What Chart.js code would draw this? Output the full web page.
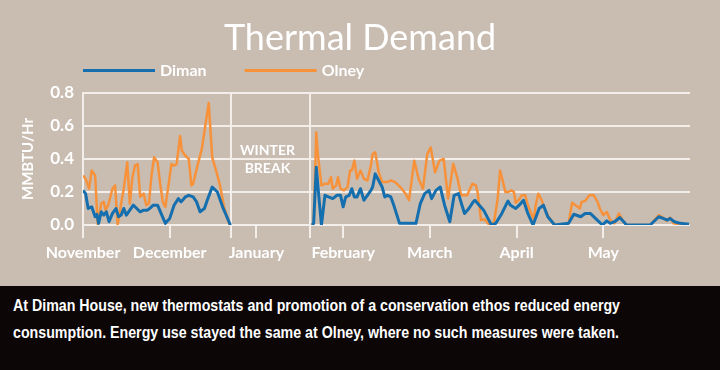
<!DOCTYPE html>
<html>
<head>
<meta charset="utf-8">
<script src="https://cdn.jsdelivr.net/npm/chart.js@4.4.1/dist/chart.umd.min.js"></script>
<style>
html,body{margin:0;padding:0;background:#c9bcb1;}
#wrap{position:relative;width:720px;height:370px;overflow:hidden;background:#c9bcb1;}
#chartBox{position:absolute;left:0;top:0;width:720px;height:286px;}
#caption{position:absolute;left:0;top:286px;width:720px;height:84px;background:#0c0606;color:#ffffff;
  font-family:"Liberation Sans",Arial,sans-serif;font-weight:bold;font-size:16px;
  line-height:27px;padding:6px 0 0 13px;box-sizing:border-box;white-space:nowrap;}
#caption .ln{display:inline-block;transform-origin:0 50%;}
</style>
</head>
<body>
<div id="wrap">
  <div id="chartBox"><canvas id="c" width="720" height="286"></canvas></div>
  <div id="caption"><span class="ln">At Diman House, new thermostats and promotion of a conservation ethos reduced energy</span><br><span class="ln">consumption. Energy use stayed the same at Olney, where no such measures were taken.</span></div>
</div>
<script>
// ---- categories / tick labels (x = months since Nov 1) ----
const monthLabels = ['November', 'December', 'January', 'February', 'March', 'April', 'May'];
const monthTicks = [0, 1, 2, 3, 4, 5, 6];
const winterBreak = [1.705, 2.618];
const yTicks = [0, 0.2, 0.4, 0.6, 0.8];

// ---- Diman (MMBTU/Hr) ----
const dimanMonth = [
  0.00,0.03,0.06,0.10,0.14,0.16,0.18,0.21,0.24,0.27,0.30,0.34,0.38,0.41,0.44,0.47,0.50,0.54,0.58,0.62,
  0.66,0.70,0.74,0.77,0.81,0.86,0.90,0.95,1.00,1.05,1.10,1.13,1.18,1.22,1.27,1.31,1.35,1.40,1.44,1.49,
  1.55,1.61,1.70,2.20,
  2.64,2.66,2.69,2.72,2.75,2.79,2.83,2.88,2.93,2.97,3.00,3.03,3.07,3.10,3.13,3.16,3.20,3.24,3.28,3.32,
  3.34,3.37,3.41,3.45,3.48,3.51,3.55,3.59,3.65,3.72,3.77,3.84,3.89,3.94,3.99,4.02,4.07,4.12,4.17,4.23,
  4.28,4.33,4.37,4.40,4.45,4.50,4.52,4.57,4.62,4.67,4.71,4.76,4.83,4.90,4.93,4.99,5.03,5.08,5.13,5.19,
  5.26,5.31,5.36,5.44,5.60,5.66,5.74,5.79,5.85,5.91,5.99,6.04,6.08,6.13,6.19,6.27,6.54,6.64,6.69,6.74,
  6.77,6.82,6.89,6.99
];
const dimanValue = [
  0.21,0.19,0.10,0.11,0.05,0.065,0.01,0.08,0.06,0.08,0.02,0.07,0.10,0.05,0.06,0.10,0.06,0.09,0.12,0.10,
  0.08,0.09,0.09,0.10,0.12,0.12,0.07,0.01,0.04,0.12,0.16,0.14,0.17,0.18,0.17,0.14,0.08,0.10,0.16,0.23,
  0.20,0.11,0.00,null,
  0.00,0.01,0.35,0.17,0.00,0.18,0.17,0.16,0.18,0.18,0.11,0.17,0.18,0.22,0.17,0.17,0.22,0.15,0.18,0.21,
  0.23,0.31,0.27,0.23,0.17,0.18,0.17,0.11,0.01,0.01,0.01,0.01,0.13,0.19,0.21,0.16,0.21,0.23,0.12,0.02,
  0.18,0.19,0.12,0.07,0.10,0.14,0.15,0.12,0.09,0.04,0.00,0.01,0.07,0.145,0.12,0.10,0.12,0.15,0.07,0.00,
  0.10,0.12,0.05,0.00,0.01,0.065,0.05,0.07,0.07,0.04,0.00,0.025,0.01,0.02,0.045,0.00,0.00,0.05,0.04,0.03,
  0.04,0.02,0.01,0.005
];

// ---- Olney (MMBTU/Hr) ----
const olneyMonth = [
  0.00,0.03,0.07,0.10,0.14,0.17,0.21,0.24,0.26,0.29,0.34,0.37,0.40,0.43,0.47,0.51,0.54,0.57,0.60,0.63,
  0.66,0.70,0.73,0.76,0.79,0.82,0.86,0.89,0.92,0.95,0.98,1.02,1.05,1.08,1.12,1.14,1.18,1.22,1.25,1.27,
  1.32,1.37,1.41,1.45,1.49,1.54,1.58,1.63,1.69,2.20,
  2.64,2.66,2.69,2.71,2.75,2.79,2.83,2.86,2.88,2.92,2.94,2.97,3.01,3.05,3.08,3.10,3.13,3.16,3.20,3.24,
  3.28,3.32,3.34,3.37,3.41,3.45,3.51,3.55,3.60,3.66,3.72,3.76,3.82,3.87,3.92,3.97,4.01,4.06,4.11,4.16,
  4.21,4.27,4.32,4.36,4.43,4.49,4.53,4.55,4.59,4.63,4.67,4.70,4.74,4.78,4.81,4.84,4.87,4.90,4.94,4.97,
  4.99,5.03,5.06,5.10,5.13,5.17,5.20,5.22,5.25,5.29,5.32,5.37,5.43,5.53,5.60,5.64,5.68,5.73,5.75,5.79,
  5.84,5.89,5.93,5.96,6.00,6.04,6.08,6.13,6.18,6.23,6.27,6.54,6.64,6.69,6.73,6.77,6.81,6.92,6.99
];
const olneyValue = [
  0.30,0.28,0.22,0.33,0.30,0.00,0.13,0.14,0.09,0.12,0.22,0.24,0.00,0.10,0.22,0.38,0.13,0.29,0.36,0.37,
  0.17,0.19,0.12,0.13,0.30,0.41,0.38,0.25,0.14,0.11,0.22,0.37,0.36,0.37,0.54,0.45,0.42,0.40,0.24,0.25,
  0.36,0.46,0.60,0.74,0.41,0.32,0.24,0.10,0.00,null,
  0.00,0.01,0.56,0.42,0.24,0.25,0.25,0.29,0.22,0.24,0.29,0.22,0.21,0.23,0.33,0.33,0.39,0.28,0.33,0.28,
  0.27,0.36,0.43,0.44,0.32,0.26,0.26,0.27,0.26,0.23,0.19,0.15,0.39,0.28,0.22,0.43,0.47,0.32,0.39,0.40,
  0.16,0.37,0.28,0.18,0.18,0.25,0.24,0.20,0.03,0.035,0.01,0.00,0.02,0.15,0.33,0.27,0.20,0.20,0.21,0.20,
  0.135,0.155,0.18,0.18,0.12,0.07,0.03,0.12,0.19,0.15,0.10,0.05,0.00,0.00,0.01,0.135,0.12,0.10,0.14,0.145,
  0.18,0.18,0.145,0.10,0.06,0.08,0.03,0.01,0.07,0.02,0.00,0.00,0.06,0.045,0.025,0.045,0.01,0.00,0.00
];

const BLUE = '#156fae';
const ORANGE = '#f7923a';
const GRID = '#f3eeea';
const WHITE = '#ffffff';

// fit the caption lines to the reference width (condensed look)
(function fitCaption() {
  const lines = document.querySelectorAll('#caption .ln');
  const w = lines[0].getBoundingClientRect().width;
  const k = 607 / w;
  lines.forEach(el => { el.style.transform = 'scaleX(' + k + ')'; });
})();

const toPoints = (xs, ys) => xs.map((x, i) => ({x: x, y: ys[i]}));

const lineLegend = {
  id: 'lineLegend',
  afterDraw(chart) {
    const ctx = chart.ctx;
    const area = chart.chartArea;
    const y = area.top - 22.5;
    let x = area.left;
    ctx.save();
    ctx.font = 'bold 16px Lato';
    ctx.textBaseline = 'middle';
    ctx.textAlign = 'left';
    chart.data.datasets.forEach(ds => {
      ctx.fillStyle = ds.borderColor;
      ctx.fillRect(x, y - 1.5, 72, 3);
      x += 77;
      ctx.fillStyle = WHITE;
      ctx.fillText(ds.label, x, y);
      x += ctx.measureText(ds.label).width + 38;
    });
    ctx.restore();
  }
};

const breakLabel = {
  id: 'breakLabel',
  afterDatasetsDraw(chart) {
    const xs = chart.scales.x, ys = chart.scales.y;
    const cx = (xs.getPixelForValue(winterBreak[0]) + xs.getPixelForValue(winterBreak[1])) / 2 - 3;
    const cy = ys.getPixelForValue(0.45);
    const ctx = chart.ctx;
    ctx.save();
    ctx.font = 'bold 14px Lato';
    ctx.fillStyle = WHITE;
    ctx.textAlign = 'center';
    ctx.textBaseline = 'middle';
    ctx.fillText('WINTER', cx, cy);
    ctx.fillText('BREAK', cx, cy + 18);
    ctx.restore();
  }
};

new Chart(document.getElementById('c'), {
  type: 'line',
  data: {
    datasets: [
      {label: 'Diman', data: toPoints(dimanMonth, dimanValue), borderColor: BLUE, backgroundColor: BLUE,
       borderWidth: 3, pointRadius: 0, tension: 0, spanGaps: false, borderJoinStyle: 'round', fill: false},
      {label: 'Olney', data: toPoints(olneyMonth, olneyValue), borderColor: ORANGE, backgroundColor: ORANGE,
       borderWidth: 2.5, pointRadius: 0, tension: 0, spanGaps: false, borderJoinStyle: 'round', fill: false}
    ]
  },
  options: {
    responsive: false,
    animation: false,
    devicePixelRatio: 1,
    layout: {padding: 0},
    plugins: {
      legend: {display: false},
      tooltip: {enabled: false},
      title: {
        display: true,
        text: 'Thermal Demand',
        color: WHITE,
        font: {family: 'Lato', size: 36, weight: 'normal', lineHeight: 1.2},
        padding: {top: 17, bottom: 32.8}
      }
    },
    scales: {
      x: {
        type: 'linear', position: 'bottom', min: 0, max: 7,
        afterBuildTicks: (s) => { s.ticks = monthTicks.concat(winterBreak).sort((a, b) => a - b).map(v => ({value: v})); },
        afterFit: (s) => { s.height = 61; },
        ticks: {
          autoSkip: false, maxRotation: 0, padding: 5, color: WHITE,
          font: {family: 'Lato', size: 16, weight: 'bold'},
          callback: (v) => (Number.isInteger(v) ? monthLabels[v] : '')
        },
        grid: {drawOnChartArea: false, drawTicks: true, tickLength: 13, color: GRID, lineWidth: 2},
        border: {display: false}
      },
      x2: {
        type: 'linear', position: 'top', min: 0, max: 7,
        afterBuildTicks: (s) => { s.ticks = winterBreak.map(v => ({value: v})); },
        afterFit: (s) => { s.height = 0; },
        ticks: {display: false},
        grid: {drawOnChartArea: true, drawTicks: false, color: GRID, lineWidth: 2},
        border: {display: false}
      },
      y: {
        min: 0, max: 0.8,
        afterBuildTicks: (s) => { s.ticks = yTicks.map(v => ({value: v})); },
        afterFit: (s) => { s.width = 83; },
        ticks: {
          padding: 9, color: WHITE,
          font: {family: 'Lato', size: 17, weight: 'bold'},
          callback: (v) => v.toFixed(1)
        },
        grid: {drawTicks: false, color: GRID, lineWidth: 2},
        border: {display: true, color: GRID, width: 2},
        title: {
          display: true, text: 'MMBTU/Hr', color: WHITE,
          font: {family: 'Lato', size: 15, weight: 'bold', lineHeight: 1.2},
          padding: {top: 19, bottom: 0}
        }
      },
      yRight: {
        type: 'linear', position: 'right', min: 0, max: 0.8,
        afterFit: (s) => { s.width = 30; },
        ticks: {display: false},
        grid: {display: false, drawOnChartArea: false, drawTicks: false},
        border: {display: false}
      }
    }
  },
  plugins: [lineLegend, breakLabel]
});
</script>
</body>
</html>
